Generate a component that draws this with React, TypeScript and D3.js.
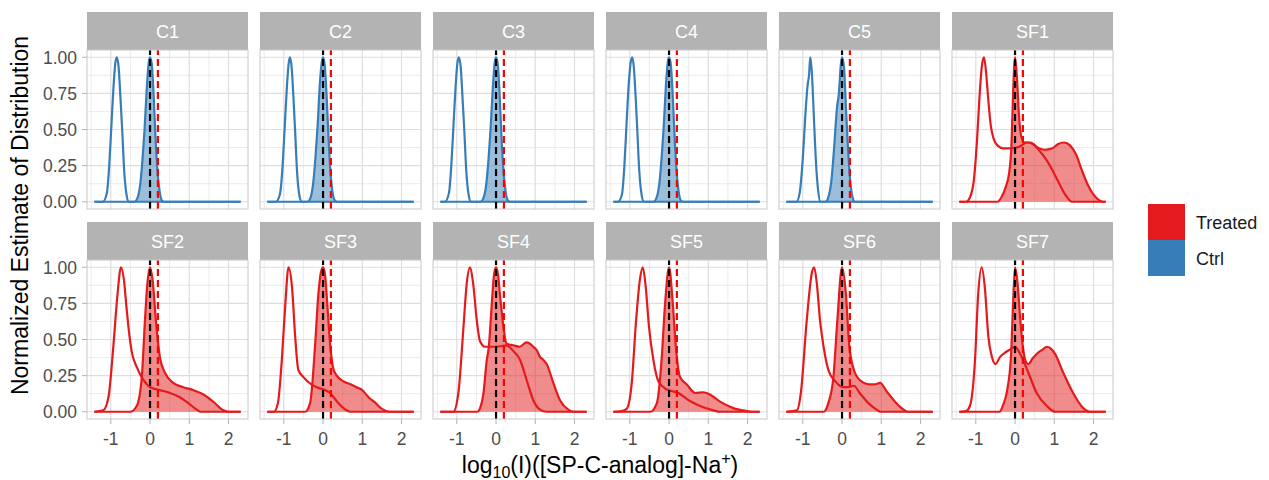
import React from "react";
import * as d3 from "d3";

type Pt = [number, number];

// facets and their group
const facets = ["C1", "C2", "C3", "C4", "C5", "SF1", "SF2", "SF3", "SF4", "SF5", "SF6", "SF7"];
const groups = ["Ctrl", "Ctrl", "Ctrl", "Ctrl", "Ctrl", "Treated", "Treated", "Treated", "Treated", "Treated", "Treated", "Treated"];
const legendKeys = ["Treated", "Ctrl"];
const groupColors: Record<string, string> = { Treated: "#E41A1C", Ctrl: "#377EB8" };

const xTicks = [-1, 0, 1, 2];
const yTicks = [0, 0.25, 0.5, 0.75, 1];
const refLine = 0;
const cutLine = 0.2;

// density curves: [log10 I, normalized density]
const c1Open: Pt[] = [[-1.42, 0], [-1.2, 0], [-1.1, 0.06], [-1.04, 0.25], [-0.99, 0.5], [-0.93, 0.8], [-0.88, 0.97], [-0.845, 1], [-0.8, 0.93], [-0.75, 0.7], [-0.71, 0.5], [-0.66, 0.22], [-0.6, 0.05], [-0.54, 0], [2.31, 0]];
const c1Fill: Pt[] = [[-1.42, 0], [-0.4, 0], [-0.33, 0.02], [-0.25, 0.12], [-0.19, 0.3], [-0.14, 0.5], [-0.08, 0.8], [-0.03, 0.97], [0, 1], [0.04, 0.96], [0.09, 0.75], [0.13, 0.5], [0.18, 0.25], [0.24, 0.08], [0.3, 0.01], [0.36, 0], [2.31, 0]];
const c2Open: Pt[] = [[-1.42, 0], [-1.2, 0], [-1.1, 0.05], [-1.03, 0.25], [-0.98, 0.5], [-0.92, 0.8], [-0.87, 0.97], [-0.84, 1], [-0.8, 0.93], [-0.75, 0.7], [-0.71, 0.48], [-0.66, 0.2], [-0.6, 0.04], [-0.54, 0], [2.31, 0]];
const c2Fill: Pt[] = [[-1.42, 0], [-0.4, 0], [-0.33, 0.02], [-0.25, 0.13], [-0.19, 0.32], [-0.14, 0.52], [-0.08, 0.82], [-0.03, 0.97], [0, 1], [0.04, 0.95], [0.09, 0.74], [0.13, 0.5], [0.18, 0.24], [0.24, 0.07], [0.3, 0.01], [0.36, 0], [2.31, 0]];
const c3Open: Pt[] = [[-1.42, 0], [-1.3, 0], [-1.2, 0.06], [-1.14, 0.25], [-1.09, 0.5], [-1.03, 0.8], [-0.98, 0.97], [-0.945, 1], [-0.9, 0.93], [-0.85, 0.7], [-0.81, 0.5], [-0.76, 0.22], [-0.7, 0.05], [-0.64, 0], [2.31, 0]];
const c3Fill: Pt[] = [[-1.42, 0], [-0.4, 0], [-0.33, 0.02], [-0.25, 0.12], [-0.19, 0.3], [-0.14, 0.5], [-0.08, 0.8], [-0.03, 0.97], [0, 1], [0.04, 0.96], [0.09, 0.75], [0.13, 0.5], [0.18, 0.25], [0.24, 0.08], [0.3, 0.01], [0.36, 0], [2.31, 0]];
const c4Open: Pt[] = [[-1.42, 0], [-1.3, 0], [-1.2, 0.05], [-1.14, 0.24], [-1.09, 0.5], [-1.03, 0.8], [-0.98, 0.96], [-0.94, 1], [-0.9, 0.94], [-0.85, 0.72], [-0.81, 0.5], [-0.76, 0.22], [-0.7, 0.05], [-0.64, 0], [2.31, 0]];
const c4Fill: Pt[] = [[-1.42, 0], [-0.4, 0], [-0.33, 0.02], [-0.25, 0.12], [-0.19, 0.3], [-0.14, 0.5], [-0.08, 0.8], [-0.03, 0.97], [0, 1], [0.04, 0.96], [0.09, 0.76], [0.13, 0.52], [0.18, 0.26], [0.24, 0.08], [0.3, 0.01], [0.36, 0], [2.31, 0]];
const c5Open: Pt[] = [[-1.42, 0], [-1.16, 0], [-1.08, 0.06], [-1.0, 0.3], [-0.93, 0.62], [-0.88, 0.8], [-0.84, 0.88], [-0.81, 1], [-0.77, 0.9], [-0.72, 0.6], [-0.67, 0.3], [-0.61, 0.08], [-0.55, 0], [2.31, 0]];
const c5Fill: Pt[] = [[-1.42, 0], [-0.42, 0], [-0.35, 0.03], [-0.27, 0.15], [-0.2, 0.38], [-0.13, 0.65], [-0.08, 0.75], [-0.03, 0.95], [0, 1], [0.05, 0.93], [0.1, 0.65], [0.15, 0.38], [0.21, 0.14], [0.27, 0.03], [0.33, 0], [2.31, 0]];
const sf1Open: Pt[] = [[-1.42, 0], [-1.25, 0], [-1.15, 0.03], [-1.05, 0.15], [-0.97, 0.42], [-0.9, 0.75], [-0.84, 0.95], [-0.79, 1], [-0.74, 0.9], [-0.68, 0.7], [-0.62, 0.53], [-0.55, 0.44], [-0.45, 0.39], [-0.3, 0.37], [-0.1, 0.37], [0.1, 0.38], [0.3, 0.41], [0.45, 0.4], [0.6, 0.36], [0.8, 0.29], [0.95, 0.22], [1.1, 0.14], [1.28, 0.05], [1.45, 0], [2.31, 0]];
const sf1Fill: Pt[] = [[-1.42, 0], [-0.45, 0], [-0.35, 0.03], [-0.24, 0.1], [-0.15, 0.2], [-0.09, 0.4], [-0.05, 0.75], [0, 1], [0.05, 0.85], [0.1, 0.6], [0.16, 0.45], [0.25, 0.41], [0.4, 0.41], [0.55, 0.38], [0.75, 0.36], [0.95, 0.37], [1.1, 0.4], [1.25, 0.41], [1.4, 0.39], [1.55, 0.33], [1.7, 0.22], [1.85, 0.12], [2.0, 0.05], [2.15, 0.01], [2.25, 0], [2.31, 0]];
const sf2Open: Pt[] = [[-1.42, 0], [-1.19, 0.01], [-1.06, 0.1], [-0.93, 0.47], [-0.83, 0.81], [-0.74, 1], [-0.66, 0.9], [-0.6, 0.72], [-0.55, 0.585], [-0.47, 0.42], [-0.34, 0.31], [-0.17, 0.22], [0, 0.17], [0.25, 0.15], [0.51, 0.13], [0.76, 0.1], [1.02, 0.05], [1.19, 0.015], [1.3, 0], [2.31, 0]];
const sf2Fill: Pt[] = [[-1.42, 0], [-0.51, 0], [-0.34, 0.04], [-0.21, 0.24], [-0.13, 0.63], [-0.07, 0.88], [0, 1], [0.07, 0.9], [0.15, 0.63], [0.25, 0.38], [0.38, 0.27], [0.59, 0.2], [0.85, 0.17], [1.1, 0.15], [1.36, 0.12], [1.61, 0.07], [1.87, 0.01], [2.0, 0], [2.31, 0]];
const sf3Open: Pt[] = [[-1.42, 0], [-1.25, 0], [-1.15, 0.06], [-1.05, 0.36], [-0.96, 0.75], [-0.88, 1], [-0.79, 0.86], [-0.71, 0.52], [-0.63, 0.29], [-0.5, 0.24], [-0.3, 0.19], [-0.16, 0.17], [0.05, 0.15], [0.18, 0.13], [0.3, 0.09], [0.39, 0.06], [0.5, 0.03], [0.6, 0.01], [0.7, 0], [2.31, 0]];
const sf3Fill: Pt[] = [[-1.42, 0], [-0.46, 0], [-0.33, 0.06], [-0.2, 0.47], [-0.12, 0.81], [-0.05, 0.97], [0, 1], [0.05, 0.95], [0.1, 0.78], [0.18, 0.47], [0.26, 0.3], [0.35, 0.25], [0.52, 0.21], [0.7, 0.19], [0.85, 0.17], [1.0, 0.15], [1.1, 0.12], [1.2, 0.09], [1.3, 0.07], [1.5, 0.02], [1.7, 0], [2.31, 0]];
const sf4Open: Pt[] = [[-1.42, 0], [-1.09, 0], [-0.96, 0.13], [-0.83, 0.585], [-0.75, 0.88], [-0.66, 1], [-0.58, 0.88], [-0.49, 0.63], [-0.41, 0.49], [-0.28, 0.45], [0.02, 0.45], [0.27, 0.46], [0.44, 0.42], [0.61, 0.36], [0.78, 0.22], [0.95, 0.08], [1.12, 0.015], [1.29, 0], [2.31, 0]];
const sf4Fill: Pt[] = [[-1.42, 0], [-0.48, 0], [-0.4, 0.03], [-0.32, 0.13], [-0.24, 0.35], [-0.18, 0.46], [-0.12, 0.7], [-0.05, 0.95], [0, 1], [0.05, 0.95], [0.1, 0.81], [0.19, 0.585], [0.27, 0.47], [0.44, 0.46], [0.6, 0.45], [0.78, 0.48], [0.95, 0.45], [1.05, 0.42], [1.12, 0.38], [1.2, 0.36], [1.29, 0.33], [1.46, 0.2], [1.63, 0.08], [1.84, 0.015], [1.97, 0], [2.31, 0]];
const sf5Open: Pt[] = [[-1.42, 0], [-1.2, 0.005], [-1.08, 0.02], [-0.95, 0.2], [-0.84, 0.63], [-0.74, 0.92], [-0.67, 1], [-0.6, 0.88], [-0.51, 0.585], [-0.4, 0.36], [-0.27, 0.21], [-0.06, 0.155], [0.24, 0.13], [0.5, 0.08], [0.79, 0.04], [1.13, 0.01], [1.3, 0], [2.31, 0]];
const sf5Fill: Pt[] = [[-1.42, 0], [-0.48, 0], [-0.31, 0.06], [-0.19, 0.36], [-0.1, 0.75], [0, 1], [0.09, 0.77], [0.18, 0.43], [0.28, 0.24], [0.45, 0.19], [0.67, 0.13], [0.87, 0.135], [1.04, 0.12], [1.3, 0.07], [1.64, 0.025], [1.98, 0.005], [2.1, 0], [2.31, 0]];
const sf6Open: Pt[] = [[-1.42, 0], [-1.15, 0.01], [-1.05, 0.13], [-0.9, 0.63], [-0.77, 0.96], [-0.71, 1], [-0.64, 0.88], [-0.56, 0.63], [-0.47, 0.45], [-0.35, 0.29], [-0.17, 0.21], [0.03, 0.17], [0.16, 0.17], [0.3, 0.18], [0.45, 0.13], [0.67, 0.06], [0.88, 0.015], [0.97, 0], [2.31, 0]];
const sf6Fill: Pt[] = [[-1.42, 0], [-0.47, 0], [-0.35, 0.06], [-0.22, 0.24], [-0.12, 0.63], [0, 1], [0.1, 0.81], [0.18, 0.47], [0.28, 0.31], [0.45, 0.22], [0.7, 0.19], [0.85, 0.19], [0.97, 0.2], [1.14, 0.14], [1.35, 0.07], [1.57, 0.015], [1.69, 0], [2.31, 0]];
const sf7Open: Pt[] = [[-1.42, 0], [-1.25, 0.005], [-1.15, 0.04], [-1.02, 0.36], [-0.94, 0.81], [-0.85, 1], [-0.77, 0.86], [-0.68, 0.52], [-0.59, 0.38], [-0.5, 0.33], [-0.38, 0.38], [-0.25, 0.41], [-0.13, 0.43], [0, 0.45], [0.13, 0.4], [0.34, 0.27], [0.55, 0.13], [0.81, 0.04], [1.02, 0], [2.31, 0]];
const sf7Fill: Pt[] = [[-1.42, 0], [-0.4, 0], [-0.3, 0.05], [-0.2, 0.15], [-0.1, 0.4], [-0.05, 0.75], [0, 1], [0.06, 0.9], [0.13, 0.65], [0.2, 0.45], [0.27, 0.35], [0.34, 0.33], [0.45, 0.37], [0.55, 0.4], [0.7, 0.43], [0.81, 0.45], [0.9, 0.44], [1.02, 0.4], [1.23, 0.27], [1.48, 0.13], [1.74, 0.025], [1.9, 0], [2.31, 0]];

const openCurves = [c1Open, c2Open, c3Open, c4Open, c5Open, sf1Open, sf2Open, sf3Open, sf4Open, sf5Open, sf6Open, sf7Open];
const fillCurves = [c1Fill, c2Fill, c3Fill, c4Fill, c5Fill, sf1Fill, sf2Fill, sf3Fill, sf4Fill, sf5Fill, sf6Fill, sf7Fill];

const W = 1269;
const H = 480;
const font = "'Liberation Sans', Arial, sans-serif";

// layout
const panelLeft = 87;
const panelStep = 173;
const panelW = 161;
const stripH = 38;
const panelH = 159;
const rowTops = [12, 222];
const nCol = 6;

const allX = openCurves.concat(fillCurves).flat().map((p) => p[0]);
const [xMin, xMax] = d3.extent(allX) as [number, number];
const xPad = (xMax - xMin) * 0.05;
const x = d3.scaleLinear().domain([xMin - xPad, xMax + xPad]).range([0, panelW]);
const y = d3.scaleLinear().domain([-0.05, 1.05]).range([panelH, 0]);

const line = d3.line<Pt>().x((d) => x(d[0])).y((d) => y(d[1])).curve(d3.curveMonotoneX);
const area = d3.area<Pt>().x((d) => x(d[0])).y0(y(0)).y1((d) => y(d[1])).curve(d3.curveMonotoneX);

const xMinor = [-1.5, -0.5, 0.5, 1.5];
const yMinor = [0.125, 0.375, 0.625, 0.875];

export default function App() {
  return (
    <svg width={W} height={H} style={{ position: "absolute", left: 0, top: 0, background: "#fff" }} fontFamily={font}>
      <rect width={W} height={H} fill="#fff" />
      {facets.map((f, i) => {
        const col = i % nCol;
        const row = Math.floor(i / nCol);
        const px = panelLeft + col * panelStep;
        const py = rowTops[row] + stripH;
        const c = groupColors[groups[i]];
        return (
          <g key={f}>
            <rect x={px} y={rowTops[row]} width={panelW} height={stripH} fill="#b3b3b3" />
            <text x={px + panelW / 2} y={rowTops[row] + stripH / 2 + 6.5} textAnchor="middle" fill="#fff" fontSize={18}>
              {f}
            </text>
            <g transform={`translate(${px},${py})`}>
              {xMinor.map((t) => (
                <line key={"xm" + t} x1={x(t)} x2={x(t)} y1={0} y2={panelH} stroke="#dedede" strokeWidth={0.6} />
              ))}
              {yMinor.map((t) => (
                <line key={"ym" + t} x1={0} x2={panelW} y1={y(t)} y2={y(t)} stroke="#dedede" strokeWidth={0.6} />
              ))}
              {xTicks.map((t) => (
                <line key={"xg" + t} x1={x(t)} x2={x(t)} y1={0} y2={panelH} stroke="#dedede" strokeWidth={1.2} />
              ))}
              {yTicks.map((t) => (
                <line key={"yg" + t} x1={0} x2={panelW} y1={y(t)} y2={y(t)} stroke="#dedede" strokeWidth={1.2} />
              ))}
              <path d={area(fillCurves[i]) || ""} fill={c} fillOpacity={0.5} />
              <path d={line(fillCurves[i]) || ""} fill="none" stroke={c} strokeWidth={2.2} />
              <path d={line(openCurves[i]) || ""} fill="none" stroke={c} strokeWidth={2.2} />
              <line x1={x(refLine)} x2={x(refLine)} y1={panelH} y2={0} stroke="#000" strokeWidth={2.2} strokeDasharray="7,4" />
              <line x1={x(cutLine)} x2={x(cutLine)} y1={panelH} y2={0} stroke="#ff0000" strokeWidth={2.2} strokeDasharray="7,4" />
              <rect x={0} y={0} width={panelW} height={panelH} fill="none" stroke="#c8c8c8" strokeWidth={1} />
              {row === 1 &&
                xTicks.map((t) => (
                  <g key={"xt" + t}>
                    <line x1={x(t)} x2={x(t)} y1={panelH} y2={panelH + 5} stroke="#b3b3b3" strokeWidth={1} />
                    <text x={x(t)} y={panelH + 26} textAnchor="middle" fill="#4d4d4d" fontSize={17.5}>
                      {t}
                    </text>
                  </g>
                ))}
              {col === 0 &&
                yTicks.map((t) => (
                  <g key={"yt" + t}>
                    <line x1={-5} x2={0} y1={y(t)} y2={y(t)} stroke="#b3b3b3" strokeWidth={1} />
                    <text x={-10} y={y(t) + 6.3} textAnchor="end" fill="#4d4d4d" fontSize={17.5}>
                      {d3.format(".2f")(t)}
                    </text>
                  </g>
                ))}
            </g>
          </g>
        );
      })}

      <text transform={`translate(28,${(rowTops[0] + rowTops[1] + stripH + panelH) / 2}) rotate(-90)`} textAnchor="middle" fontSize={23} fill="#000">
        Normalized Estimate of Distribution
      </text>
      <text x={panelLeft + (panelStep * (nCol - 1) + panelW) / 2} y={473} textAnchor="middle" fontSize={23} fill="#000">
        log
        <tspan fontSize={16} dy={5}>10</tspan>
        <tspan dy={-5}>(I)([SP-C-analog]-Na</tspan>
        <tspan fontSize={16} dy={-9}>+</tspan>
        <tspan dy={9}>)</tspan>
      </text>

      {legendKeys.map((k, i) => (
        <g key={k}>
          <rect x={1148} y={204 + i * 36} width={37} height={36} fill={groupColors[k]} />
          <text x={1196} y={204 + i * 36 + 24.5} fontSize={18} fill="#1a1a1a">
            {k}
          </text>
        </g>
      ))}
    </svg>
  );
}
